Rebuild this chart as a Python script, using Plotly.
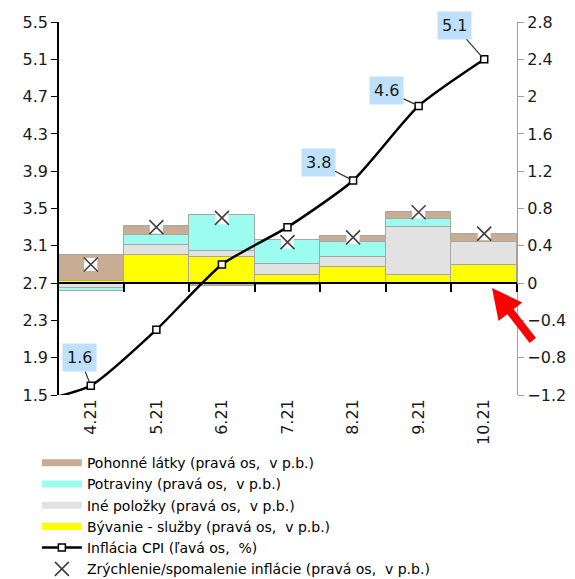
import plotly.graph_objects as go

# ---------------- data ----------------
months = ["4.21", "5.21", "6.21", "7.21", "8.21", "9.21", "10.21"]
# contributions (right axis, p.b.)
byvanie = [0.02, 0.30, 0.28, 0.09, 0.17, 0.09, 0.19]
ine = [-0.05, 0.11, 0.06, 0.11, 0.11, 0.51, 0.25]
potraviny = [-0.04, 0.11, 0.39, 0.26, 0.16, 0.09, 0.00]
pohonne = [0.28, 0.09, -0.03, -0.02, 0.06, 0.07, 0.09]
zrychlenie = [0.20, 0.60, 0.70, 0.44, 0.49, 0.76, 0.53]
# CPI inflation (left axis, %), previous month included for the line entering the chart
cpi_months = ["3.21"] + months
cpi = [1.4, 1.6, 2.2, 2.9, 3.3, 3.8, 4.6, 5.1]
labelled = ["4.21", "8.21", "9.21", "10.21"]

left_ticks = [1.5, 1.9, 2.3, 2.7, 3.1, 3.5, 3.9, 4.3, 4.7, 5.1, 5.5]
right_ticks = [-1.2, -0.8, -0.4, 0, 0.4, 0.8, 1.2, 1.6, 2, 2.4, 2.8]

names = {
    "poh": "Pohonné látky (pravá os,\u00a0 v p.b.)",
    "pot": "Potraviny (pravá os,\u00a0 v p.b.)",
    "ine": "Iné položky (pravá os,\u00a0 v p.b.)",
    "byv": "Bývanie - služby (pravá os,\u00a0 v p.b.)",
    "cpi": "Inflácia CPI (ľavá os,\u00a0 %)",
    "zr": "Zrýchlenie/spomalenie inflácie (pravá os,\u00a0 v p.b.)",
}
colors = {"byv": "#ffff00", "ine": "#e2e2e2", "pot": "#9cfcf0", "poh": "#c8ad94"}

FONT = "DejaVu Sans"
xi = list(range(len(months)))
cpi_x = [cpi_months.index(m) - 1 for m in cpi_months]

fig = go.Figure()

for key, vals in [("byv", byvanie), ("ine", ine), ("pot", potraviny), ("poh", pohonne)]:
    fig.add_trace(go.Bar(
        x=xi, y=vals, name=names[key], showlegend=False,
        marker=dict(color=colors[key], line=dict(color="#a6a6a6", width=1)),
        xaxis="x", yaxis="y",
    ))

# X markers (white square halo + thin x)
fig.add_trace(go.Scatter(
    x=xi, y=zrychlenie, mode="markers", showlegend=False, hoverinfo="skip",
    marker=dict(symbol="square", size=13, color="white", line=dict(width=0)),
    xaxis="x", yaxis="y",
))
fig.add_trace(go.Scatter(
    x=xi, y=zrychlenie, mode="markers", name=names["zr"], legendrank=6,
    marker=dict(symbol="x-thin-open", size=14, color="#404040",
                line=dict(width=1.6, color="#404040")),
    xaxis="x", yaxis="y",
))

# CPI line on the left axis
fig.add_trace(go.Scatter(
    x=cpi_x, y=cpi, mode="lines+markers", name=names["cpi"], legendrank=5,
    line=dict(color="black", width=2.5, shape="spline", smoothing=0.6),
    marker=dict(symbol="square", size=7, color="white", line=dict(color="black", width=1.5)),
    xaxis="x2", yaxis="y2", cliponaxis=True,
))

# legend entries for the stacked bars (wide swatches)
for rank, key in enumerate(["poh", "pot", "ine", "byv"], start=1):
    fig.add_trace(go.Scatter(
        x=[None], y=[None], mode="lines", name=names[key], legendrank=rank,
        line=dict(color=colors[key], width=7), xaxis="x", yaxis="y",
    ))

yr = [right_ticks[0], right_ticks[-1]]
zero_pos = (0 - yr[0]) / (yr[1] - yr[0])
xr = [-0.5, len(months) - 0.5]

annotations = []
offsets = {"4.21": (-11, -28), "8.21": (-35, -18), "9.21": (-32, -15), "10.21": (-30, -34)}
for m in labelled:
    i = months.index(m)
    v = cpi[cpi_months.index(m)]
    ax, ay = offsets[m]
    annotations.append(dict(
        x=i, y=v, xref="x2", yref="y2", text=f"{v:.1f}", showarrow=True,
        arrowhead=0, arrowwidth=1.2, arrowcolor="#333333", ax=ax, ay=ay, standoff=3,
        bgcolor="#bfe0fa", borderpad=4, font=dict(family=FONT, size=16, color="#1a1a1a"),
    ))
# red arrow pointing to the zero line
annotations.append(dict(
    x=(492 - 58) / 459, y=(395 - 288) / 373, xref="paper", yref="paper", text="",
    showarrow=True, arrowhead=2, arrowsize=0.75, arrowwidth=8, arrowcolor="#ff0000",
    ax=42, ay=54,
))

# page body adds an 8px offset; the figure is sized so the plot area lands where the reference has it
fig.update_layout(
    width=567, height=571,
    margin=dict(l=50, r=58, t=14, b=184, autoexpand=False),
    paper_bgcolor="white", plot_bgcolor="white",
    barmode="relative", bargap=0,
    font=dict(family=FONT, size=16, color="#1a1a1a"),
    showlegend=True,
    legend=dict(x=-0.046, y=-0.14, xanchor="left", yanchor="top",
                font=dict(family=FONT, size=14, color="black"),
                itemwidth=40, tracegroupgap=0, bgcolor="rgba(0,0,0,0)"),
    xaxis=dict(range=xr, tickvals=xi, ticktext=months, tickangle=-90,
               showline=False, ticks="", showgrid=False, zeroline=False,
               anchor="y", tickfont=dict(size=16)),
    xaxis2=dict(range=xr, overlaying="x", anchor="free", position=zero_pos,
                side="bottom", showline=True, linecolor="black", linewidth=2,
                ticks="outside", ticklen=8, tickwidth=1.5, tickcolor="black",
                tickvals=[b - 0.5 for b in range(len(months) + 1)],
                showticklabels=False, showgrid=False, zeroline=False),
    yaxis=dict(range=yr, tickvals=right_ticks, side="right", anchor="x",
               showline=True, linecolor="#a0a0a0", linewidth=1.2,
               ticks="outside", ticklen=6, tickcolor="#a0a0a0",
               showgrid=False, zeroline=False, tickfont=dict(size=16)),
    yaxis2=dict(range=[left_ticks[0], left_ticks[-1]], tickvals=left_ticks,
                overlaying="y", side="left", anchor="free", position=0,
                showline=True, linecolor="black", linewidth=1.5,
                ticks="outside", ticklen=6, tickcolor="black",
                showgrid=False, zeroline=False, tickfont=dict(size=16)),
    annotations=annotations,
)

fig.write_html("out.html")
